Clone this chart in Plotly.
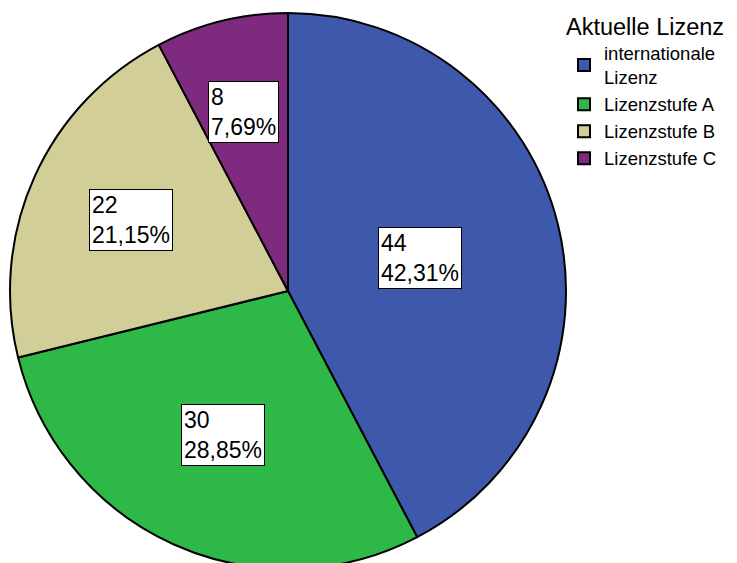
import math
import plotly.graph_objects as go

# Distribution of current coaching licence
categories = ["internationale<br>Lizenz", "Lizenzstufe A", "Lizenzstufe B", "Lizenzstufe C"]
counts = [44, 30, 22, 8]
percent_labels = ["42,31%", "28,85%", "21,15%", "7,69%"]
colors = ["#3E58AC", "#2EB848", "#D2CE98", "#7E2A7E"]

W, H = 737, 570
cx, cy, R = 288, 291, 278
# radial position (fraction of radius) of each value box
label_radius = [0.49, 0.57, 0.62, 0.665]

fig = go.Figure(go.Pie(
    labels=categories,
    values=counts,
    sort=False,
    direction="clockwise",
    rotation=0,
    textinfo="none",
    hoverinfo="label+value+percent",
    marker=dict(colors=colors, line=dict(color="black", width=2)),
    domain=dict(x=[(cx - R) / W, (cx + R) / W], y=[1 - (cy + R) / H, 1 - (cy - R) / H]),
))

total = sum(counts)
cum = 0
for v, pct, rf in zip(counts, percent_labels, label_radius):
    mid = (cum + v / 2) / total * 2 * math.pi
    cum += v
    px = cx + rf * R * math.sin(mid)
    py = cy - rf * R * math.cos(mid)
    fig.add_annotation(
        x=px / W, y=1 - py / H, xref="paper", yref="paper",
        text=f"{v}<br>{pct}", showarrow=False, align="left",
        xanchor="center", yanchor="middle",
        font=dict(family="Liberation Sans, Arial", size=23, color="black"),
        bgcolor="white", bordercolor="black", borderwidth=1, borderpad=2,
    )

fig.update_layout(
    width=W, height=H,
    margin=dict(l=0, r=0, t=0, b=0, autoexpand=False),
    paper_bgcolor="white",
    font=dict(family="Liberation Sans, Arial", color="black"),
    legend=dict(
        title=dict(text="Aktuelle Lizenz", font=dict(size=23.5)),
        font=dict(size=18.5),
        xref="paper", yref="paper",
        x=564 / W, y=1 - 4 / H, xanchor="left", yanchor="top",
        bgcolor="rgba(0,0,0,0)",
    ),
)

fig.write_html(
    "out.html",
    post_script="document.documentElement.style.overflow='hidden';document.body.style.overflow='hidden';",
)
